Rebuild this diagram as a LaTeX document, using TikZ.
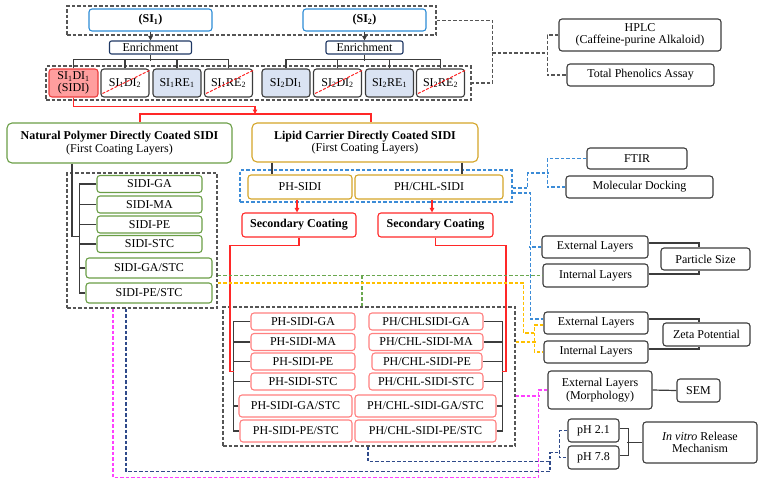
\documentclass[tikz,border=0pt]{standalone}
\usepackage{fontspec}
\setmainfont{Liberation Serif}
\usetikzlibrary{arrows.meta}
\definecolor{siblue}{RGB}{46,140,214}
\definecolor{navyb}{RGB}{31,56,100}
\definecolor{dk}{RGB}{60,60,60}
\definecolor{pinkf}{RGB}{255,158,158}
\definecolor{redb}{RGB}{235,60,60}
\definecolor{lbf}{RGB}{218,227,243}
\definecolor{grn}{RGB}{106,158,70}
\definecolor{gold}{RGB}{212,165,40}
\definecolor{redc}{RGB}{255,40,40}
\definecolor{pinkb}{RGB}{255,128,128}
\definecolor{blued}{RGB}{60,140,215}
\definecolor{greend}{RGB}{106,168,79}
\definecolor{yeld}{RGB}{255,192,0}
\definecolor{magd}{RGB}{255,64,255}
\definecolor{navyd}{RGB}{47,74,138}
\definecolor{grayd}{RGB}{85,85,85}
\newcommand\myfs{\fontsize{12}{12.5}\selectfont}
\begin{document}
\begin{tikzpicture}[x=1pt,y=-1pt,
 every node/.style={inner sep=0pt,align=center,font=\myfs},
 bx/.style={draw=dk,fill=white,rounded corners=3pt,line width=1.1pt},
 pk/.style={bx,draw=pinkb},
 gb/.style={bx,draw=grn},
 wh/.style 2 args={minimum width=#1pt,minimum height=#2pt},
 dl/.style={line width=1.1pt,dash pattern=on 3.5pt off 2pt},
 dbox/.style={draw=grayd,dl},
 conn/.style={draw=dk,line width=1.2pt},
 redl/.style={draw=redc,line width=1.2pt},
 tip/.style={-{Triangle[length=4.5pt,width=4.5pt]}},
 strike/.style={draw=redc,line width=1pt,dash pattern=on 3pt off 1.5pt},
]
\useasboundingbox (0,0) rectangle (762,483);
% dashed group boxes
\node[dbox,wh={369}{29}] (topbox) at (251.5,20.5) {};
\node[dbox,wh={425}{34}] (botbox) at (258.5,83) {};
\node[dbox,wh={150}{135}] (leftbox) at (142,240.5) {};
\node[draw=blued,dl,wh={272}{32}] (bluebox) at (376,186) {};
\node[dbox,wh={292}{139}] (midbox) at (369,376.5) {};

% top
\node[bx,draw=siblue,wh={123}{22}] (SI1) at (150.5,20) {\textbf{(SI\textsubscript{1})}};
\node[bx,draw=siblue,wh={123}{22}] (SI2) at (364.5,20) {\textbf{(SI\textsubscript{2})}};
\node[bx,draw=navyb,wh={82}{13},rounded corners=2pt] (E1) at (150.5,47.5) {Enrichment};
\node[bx,draw=navyb,wh={77}{13},rounded corners=2pt] (E2) at (364.5,47.5) {Enrichment};

\node[bx,draw=redb,fill=pinkf,wh={49}{28}] (b1) at (73.5,83) {SI\textsubscript{1}DI\textsubscript{1}\\(SIDI)};
\node[bx,wh={48}{28}] (b2) at (125,83) {SI\textsubscript{1}DI\textsubscript{2}};
\node[bx,fill=lbf,wh={48}{28}] (b3) at (177,83) {SI\textsubscript{1}RE\textsubscript{1}};
\node[bx,wh={48}{28}] (b4) at (228.5,83) {SI\textsubscript{1}RE\textsubscript{2}};
\node[bx,fill=lbf,wh={48}{28}] (b5) at (286,83) {SI\textsubscript{2}DI\textsubscript{1}};
\node[bx,wh={48}{28}] (b6) at (337.5,83) {SI\textsubscript{2}DI\textsubscript{2}};
\node[bx,fill=lbf,wh={48}{28}] (b7) at (389.5,83) {SI\textsubscript{2}RE\textsubscript{1}};
\node[bx,wh={48}{28}] (b8) at (440.5,83) {SI\textsubscript{2}RE\textsubscript{2}};

\foreach \b in {b2,b4,b6,b8}
  \draw[strike] ([xshift=2pt,yshift=4pt]\b.south west) -- ([yshift=-2pt]\b.north east);

% first coating
\node[bx,draw=grn,wh={225}{40},rounded corners=5pt] (NP) at (119.5,143) {\textbf{Natural Polymer Directly Coated SIDI}\\(First Coating Layers)};
\node[bx,draw=gold,wh={226}{39},rounded corners=5pt] (LC) at (365,142.5) {\textbf{Lipid Carrier Directly Coated SIDI}\\(First Coating Layers)};

\node[gb,wh={105}{17}] (G1) at (149.5,184) {SIDI-GA};
\node[gb,wh={105}{17}] (G2) at (149.5,204.5) {SIDI-MA};
\node[gb,wh={105}{17}] (G3) at (149.5,224.5) {SIDI-PE};
\node[gb,wh={105}{17}] (G4) at (149.5,244) {SIDI-STC};
\node[gb,wh={126}{20}] (G5) at (149,268) {SIDI-GA/STC};
\node[gb,wh={126}{20}] (G6) at (149,293) {SIDI-PE/STC};

\node[bx,draw=gold,wh={104}{24}] (PHS) at (300,187) {PH-SIDI};
\node[bx,draw=gold,wh={148}{24}] (PHC) at (429,187) {PH/CHL-SIDI};
\node[bx,draw=redc,wh={114}{24}] (S1) at (299,225) {\textbf{Secondary Coating}};
\node[bx,draw=redc,wh={115}{24}] (S2) at (435.5,225) {\textbf{Secondary Coating}};

\node[pk,wh={104}{17}] (L1) at (303,321.5) {PH-SIDI-GA};
\node[pk,wh={104}{17}] (L2) at (303,342) {PH-SIDI-MA};
\node[pk,wh={104}{17}] (L3) at (303,361.5) {PH-SIDI-PE};
\node[pk,wh={104}{17}] (L4) at (303,381.5) {PH-SIDI-STC};
\node[pk,wh={113}{22}] (L5) at (295.5,406) {PH-SIDI-GA/STC};
\node[pk,wh={112}{22}] (L6) at (296,431) {PH-SIDI-PE/STC};
\node[pk,wh={114}{17}] (R1) at (426,321.5) {PH/CHLSIDI-GA};
\node[pk,wh={114}{17}] (R2) at (426,342) {PH/CHL-SIDI-MA};
\node[pk,wh={110}{17}] (R3) at (427,361.5) {PH/CHL-SIDI-PE};
\node[pk,wh={114}{17}] (R4) at (426,381.5) {PH/CHL-SIDI-STC};
\node[pk,wh={141}{22}] (R5) at (425.5,406) {PH/CHL-SIDI-GA/STC};
\node[pk,wh={141}{22}] (R6) at (425.5,431) {PH/CHL-SIDI-PE/STC};

% right side analyses
\node[bx,wh={162}{32}] (HPLC) at (640,35) {HPLC\\(Caffeine-purine Alkaloid)};
\node[bx,wh={147}{22}] (TPA) at (640.5,75) {Total Phenolics Assay};
\node[bx,wh={100}{21}] (FTIR) at (637,158.5) {FTIR};
\node[bx,wh={147}{22}] (MD) at (639.5,187) {Molecular Docking};
\node[bx,wh={106}{22}] (ExtPS) at (595,247) {External Layers};
\node[bx,wh={105}{23}] (IntPS) at (595.5,275.5) {Internal Layers};
\node[bx,wh={89}{22}] (PS) at (705.5,259) {Particle Size};
\node[bx,wh={104}{22}] (ExtZ) at (596,323) {External Layers};
\node[bx,wh={104}{22}] (IntZ) at (596,352) {Internal Layers};
\node[bx,wh={87}{23}] (ZP) at (706.5,334.5) {Zeta Potential};
\node[bx,wh={104}{38}] (Morph) at (600,390) {External Layers\\(Morphology)};
\node[bx,wh={43}{23}] (SEM) at (698.5,390.5) {SEM};
\node[bx,wh={51}{23}] (pHa) at (593.5,430.5) {pH 2.1};
\node[bx,wh={51}{23}] (pHb) at (593.5,457.5) {pH 7.8};
\node[bx,wh={114}{41}] (IVR) at (700,442.5) {\textit{In vitro} Release\\Mechanism};

% solid black connectors
\draw[conn,tip] (SI1.south) -- (E1.north);
\draw[conn,tip] (SI2.south) -- (E2.north);
\draw[conn] (E1.south) -- ++(0,6);
\draw[conn] (E2.south) -- ++(0,6);
\draw[conn] (b1.north) -- ++(0,-9) -| (b4.north);
\draw[conn] (b2.north) -- ++(0,-9);
\draw[conn] (b3.north) -- ++(0,-9);
\draw[conn] (b5.north) -- ++(0,-9) -| (b8.north);
\draw[conn] (b6.north) -- ++(0,-9);
\draw[conn] (b7.north) -- ++(0,-9);

\draw[conn] ([xshift=-47.5pt]NP.south) -- ++(0,73) -- ++(8,0);
\draw[conn] (G1.west) -- ++(-17,0) |- (G6.west);
\foreach \g in {G2,G3,G4} \draw[conn] (\g.west) -- ++(-17,0);
\draw[conn] (G5.west) -- ++(-6,0);

\draw[conn] ([xshift=-93pt]LC.south) -- ([xshift=-28pt]PHS.north);
\draw[conn] ([xshift=97pt]LC.south) -- ([xshift=33pt]PHC.north);

\draw[conn] (L1.west) -- ++(-17,0) |- (L6.west);
\foreach \l in {L2,L3,L4} \draw[conn] (\l.west) -- ++(-17,0);
\draw[conn] (L5.west) -- ++(-5,0);
\draw[conn] (R1.east) -- ++(19,0) |- (R6.east);
\foreach \r in {R2,R4} \draw[conn] (\r.east) -- ++(19,0);
\draw[conn] (R3.east) -- ++(20,0);
\draw[conn] (R5.east) -- ++(6,0);

\draw[conn] ([yshift=4pt]ExtPS.east) -| ([xshift=-6.5pt]PS.north);
\draw[conn] ([yshift=1.5pt]IntPS.east) -| ([xshift=-6.5pt]PS.south);
\draw[conn] ([yshift=4pt]ExtZ.east) -| ([xshift=-7.5pt]ZP.north);
\draw[conn] ([yshift=3pt]IntZ.east) -| ([xshift=-7.5pt]ZP.south);
\draw[conn] (Morph.east) -- (SEM.west);
\draw[conn] ([yshift=2pt]pHa.east) -- ++(9,0) |- ([yshift=2pt]pHb.east);
\draw[conn] (IVR.west) -- ++(-15,0);

% red connectors
\coordinate (rj) at (255,114);
\draw[redl,tip] (b1.south) -- ++(0,9) -| (rj);
\draw[redl] ([xshift=20.5pt]NP.north) |- (rj) -| ([xshift=6pt]LC.north);
\draw[redl,tip] ([xshift=-3pt]PHS.south) -- ([xshift=-2pt]S1.north);
\draw[redl,tip] ([xshift=3pt]PHC.south) -- ([xshift=-3.5pt]S2.north);
\draw[redl] (S1.south) -- ++(0,8) -| ++(-69,126) -- ++(4,0);
\draw[redl] (S2.south) -- ++(0,8) -| ++(70.5,126) -- ++(-4,0);

% dashed grey (top)
\coordinate (gc) at (492,53);
\draw[draw=grayd,dl] (topbox.east) -- ++(56,0) |- (botbox.east);
\draw[draw=grayd,dl] (gc) -- ++(56,0);
\draw[draw=grayd,dl] (HPLC.west) -- ++(-11,0) |- (TPA.west);

% dashed blue
\draw[draw=blued,dl] ([yshift=-2pt]bluebox.east) -- ++(15,0) -- ++(0,-15) -- ++(21,0);
\draw[draw=blued,dl] (FTIR.west) -- ++(-39,0) |- (MD.west);
\draw[draw=blued,dl] ([yshift=-7pt]bluebox.east) -- ++(18,0) |- ([yshift=4pt]ExtZ.west);
\draw[draw=blued,dl] (ExtPS.west) -- ++(-12,0);

% dashed green
\draw[draw=greend,dl] ([yshift=-35pt]leftbox.east) -- (IntPS.west);
\draw[draw=greend,dl] ([xshift=-7pt]midbox.north) -- ++(0,-31.5);

% dashed yellow
\draw[draw=yeld,dl] ([yshift=-42.5pt]leftbox.east) -- ++(306,0) -- ++(0,50) -- ++(12,0);
\draw[draw=yeld,dl] ([yshift=34.5pt]midbox.east) -- ++(20,0);
\draw[draw=yeld,dl] ([yshift=-2pt]ExtZ.west) -- ++(-9,0) |- (IntZ.west);

% dashed magenta
\draw[draw=magd,dl] ([xshift=-29pt]leftbox.south) -- ++(0,169) -| ([xshift=-9pt]Morph.west) -- (Morph.west);
\draw[draw=magd,dl] ([yshift=-19.5pt]midbox.east) -- ++(24,0);

% dashed navy
\draw[draw=navyd,dl] ([xshift=-16pt]leftbox.south) -- ++(0,163) -- ++(424,0) -- ++(0,-19) -- ++(10,0);
\draw[draw=navyd,dl] ([xshift=-1pt]midbox.south) -- ++(0,15) -- ++(182,0);
\draw[draw=navyd,dl] (pHa.west) -- ++(-8,0) |- (pHb.west);
\end{tikzpicture}
\end{document}
